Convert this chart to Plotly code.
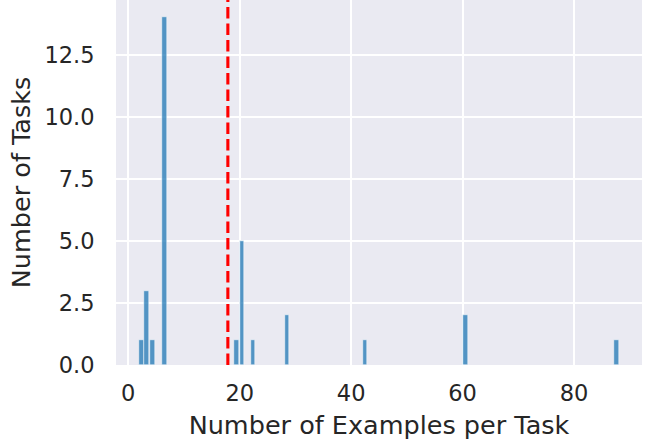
import plotly.graph_objects as go

# Histogram bins (centers) and counts
bin_centers = [2.4, 3.3, 4.3, 6.5, 19.4, 20.4, 22.4, 28.5, 42.5, 60.5, 87.6]
counts = [1, 3, 1, 14, 1, 5, 1, 2, 1, 2, 1]
bin_width = 0.86
mean_value = 17.875

x_ticks = [0, 20, 40, 60, 80]
y_ticks = [0, 2.5, 5, 7.5, 10, 12.5]
y_tick_labels = ["0.0", "2.5", "5.0", "7.5", "10.0", "12.5"]

fig = go.Figure()
fig.add_trace(go.Bar(
    x=bin_centers, y=counts, width=bin_width,
    marker=dict(color="rgba(31,119,180,0.75)", line=dict(color="white", width=0.5)),
    showlegend=False,
))
fig.add_shape(type="line", x0=mean_value, x1=mean_value, y0=0, y1=1, yref="paper",
              line=dict(color="red", width=3.1, dash="11.5px,5px"))

font = "DejaVu Sans, sans-serif"
fig.update_layout(
    width=651, height=440,
    margin=dict(l=116, r=9, t=0, b=75),
    paper_bgcolor="white", plot_bgcolor="#EAEAF2",
    font=dict(family=font, size=22, color="#262626"),
    bargap=0,
)
fig.update_xaxes(
    range=[-2.2, 92.2], tickvals=x_ticks, showgrid=True, gridcolor="white", gridwidth=1.6,
    zeroline=False, showline=False, ticks="outside", ticklen=8, tickcolor="rgba(0,0,0,0)",
    tickfont=dict(size=22.5), automargin=False,
    title=dict(text="Number of Examples per Task", font=dict(size=25.5), standoff=12),
)
fig.update_yaxes(
    range=[0, 14.7], tickvals=y_ticks, ticktext=y_tick_labels, showgrid=True, gridcolor="white",
    gridwidth=1.6, zeroline=False, showline=False, ticks="outside", ticklen=16,
    tickcolor="rgba(0,0,0,0)", tickfont=dict(size=22.5), automargin=False,
    title=dict(text="Number of Tasks", font=dict(size=25.5), standoff=6),
)
fig.write_html("out.html", config={"displayModeBar": False},
               post_script="document.body.style.margin='0';")
